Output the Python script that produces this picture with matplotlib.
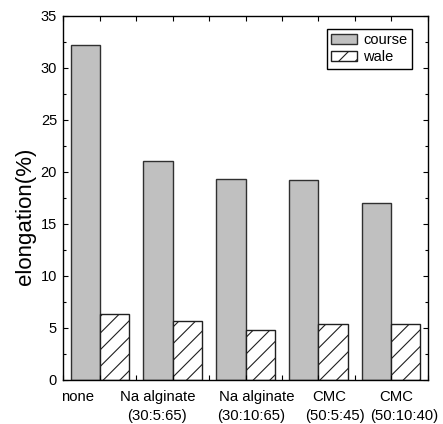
import matplotlib
matplotlib.use("Agg")
import matplotlib.pyplot as plt
from matplotlib.ticker import MultipleLocator
from matplotlib.transforms import blended_transform_factory
import numpy as np

plt.rcParams['font.family'] = ['Liberation Sans', 'DejaVu Sans']
plt.rcParams['hatch.linewidth'] = 0.8

# sample groups and elongation values (%)
groups = ["none", "Na alginate\n(30:5:65)", "Na alginate\n(30:10:65)",
          "CMC\n(50:5:45)", "CMC\n(50:10:40)"]
course = [32.2, 21.1, 19.35, 19.2, 17.05]
wale = [6.32, 5.65, 4.85, 5.35, 5.4]
series_names = ["course", "wale"]

# label line positions (data x) for each group: (first line, second line)
label_x = [(0.70, None), (1.79, 1.79), (3.16, 3.08), (4.155, 4.23), (5.07, 5.18)]

fig = plt.figure(figsize=(4.43, 4.24), dpi=100)
ax = fig.add_axes([0.1429, 0.1038, 0.8226, 0.8585])

x = np.arange(1, len(groups) + 1)
w = 0.4
ax.bar(x - w / 2, course, width=w, color="#c0c0c0", edgecolor="#303030",
       linewidth=1.0, label=series_names[0])
ax.bar(x + w / 2, wale, width=w, color="white", edgecolor="#202020",
       linewidth=1.0, hatch="//", label=series_names[1])

ax.set_xlim(0.5, 5.5)
ax.set_ylim(0, 35)
ax.xaxis.set_major_locator(MultipleLocator(0.5))
ax.set_xticklabels([])
ax.yaxis.set_major_locator(MultipleLocator(5))
ax.yaxis.set_minor_locator(MultipleLocator(2.5))
ax.tick_params(axis="both", which="both", direction="in", top=True, right=True,
               width=0.8, labelsize=10.5)
ax.tick_params(axis="both", which="major", length=3.5)
ax.tick_params(axis="y", which="major", pad=4.5)
ax.tick_params(axis="both", which="minor", length=2.0)
for s in ax.spines.values():
    s.set_linewidth(1.0)

trans = blended_transform_factory(ax.transData, ax.transAxes)
for name, (x1, x2) in zip(groups, label_x):
    lines = name.split("\n")
    ax.text(x1, -0.047, lines[0], transform=trans, ha="center", va="center",
            fontsize=10.7, clip_on=False)
    if len(lines) > 1:
        ax.text(x2, -0.099, lines[1], transform=trans, ha="center", va="center",
                fontsize=10.7, clip_on=False)

ax.set_ylabel("elongation(%)", fontsize=16, va="center")
ax.yaxis.set_label_coords(-0.105, 0.449)

leg = ax.legend(loc="upper right", bbox_to_anchor=(0.956, 0.964), borderaxespad=0,
                fancybox=False, framealpha=1, edgecolor="black", fontsize=10.5,
                handlelength=1.8, handleheight=0.7, labelspacing=0.2,
                handletextpad=0.4, borderpad=0.3)
leg.get_frame().set_linewidth(1.0)

fig.savefig("out.png", dpi=100)
